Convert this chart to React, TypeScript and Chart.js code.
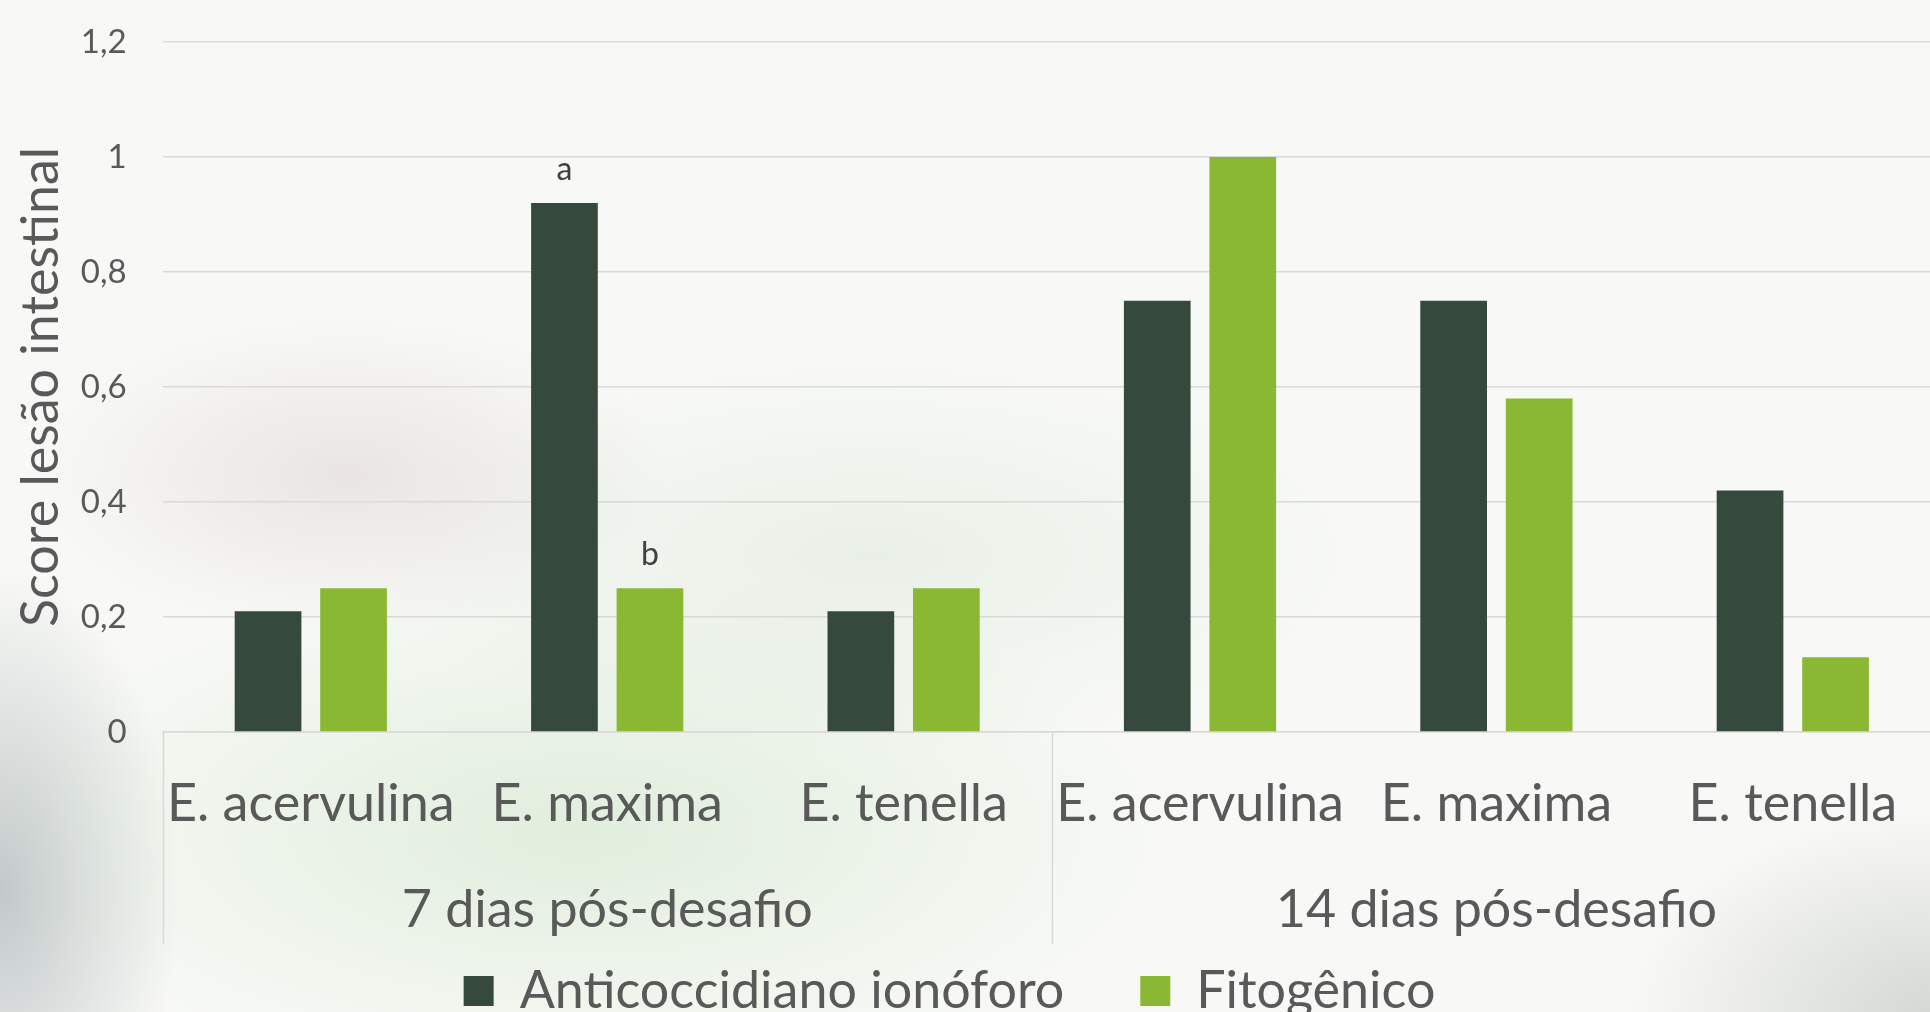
import React, { useEffect, useRef } from "react";
import { Chart, registerables } from "chart.js";

Chart.register(...registerables);

const categories = ["E. acervulina", "E. maxima", "E. tenella", "E. acervulina", "E. maxima", "E. tenella"];
const groups = ["7 dias pós-desafio", "14 dias pós-desafio"];
const groupSizes = [3, 3];
const seriesNames = ["Anticoccidiano ionóforo", "Fitogênico"];
const anticoccidiano = [0.21, 0.92, 0.21, 0.75, 0.75, 0.42];
const fitogenico = [0.25, 0.25, 0.25, 1.0, 0.58, 0.13];
const anticoccidianoMarks = ["", "a", "", "", "", ""];
const fitogenicoMarks = ["", "b", "", "", "", ""];
const yTickLabels = ["0", "0,2", "0,4", "0,6", "0,8", "1", "1,2"];
const yTitle = "Score lesão intestinal";

const DARK = "#35493d";
const GREEN = "#8ab833";
const TEXT = "#595959";
const GRID = "#d9d9d9";
const FONT = "Lato, 'Open Sans', sans-serif";

const marks = [anticoccidianoMarks, fitogenicoMarks];

const extrasPlugin = {
  id: "extras",
  afterDraw(chart: any) {
    const { ctx, chartArea, scales } = chart;
    const x = scales.x;
    ctx.save();
    ctx.strokeStyle = GRID;
    ctx.lineWidth = 1.5;
    let start = 0;
    const bounds = [0];
    groupSizes.forEach((s) => {
      start += s;
      bounds.push(start);
    });
    bounds.forEach((b) => {
      const px = Math.round(x.getPixelForValue(b - 0.5)) + 0.5;
      ctx.beginPath();
      ctx.moveTo(px, chartArea.bottom);
      ctx.lineTo(px, chartArea.bottom + 212);
      ctx.stroke();
    });
    ctx.fillStyle = TEXT;
    ctx.font = `52px ${FONT}`;
    ctx.textAlign = "center";
    ctx.textBaseline = "middle";
    let s0 = 0;
    groups.forEach((g, i) => {
      const a = x.getPixelForValue(s0 - 0.5);
      const b = x.getPixelForValue(s0 + groupSizes[i] - 0.5);
      ctx.fillText(g, (a + b) / 2, chartArea.bottom + 178);
      s0 += groupSizes[i];
    });
    ctx.font = `32px ${FONT}`;
    ctx.textBaseline = "alphabetic";
    ctx.fillStyle = "#404040";
    marks.forEach((arr, di) => {
      const meta = chart.getDatasetMeta(di);
      arr.forEach((m, j) => {
        if (!m) return;
        const el = meta.data[j];
        ctx.fillText(m, el.x, el.y - 23);
      });
    });
    ctx.restore();
  },
};

export default function App() {
  const ref = useRef<HTMLCanvasElement>(null);
  useEffect(() => {
    document.body.style.margin = "0";
    const chart = new Chart(ref.current as HTMLCanvasElement, {
      type: "bar",
      data: {
        labels: categories,
        datasets: [
          {
            label: seriesNames[0],
            data: anticoccidiano,
            backgroundColor: DARK,
            categoryPercentage: 0.577,
            barPercentage: 0.78,
          },
          {
            label: seriesNames[1],
            data: fitogenico,
            backgroundColor: GREEN,
            categoryPercentage: 0.577,
            barPercentage: 0.78,
          },
        ],
      },
      options: {
        responsive: false,
        animation: false,
        layout: { padding: { top: 42, left: 0, right: 0, bottom: 0 } },
        plugins: {
          legend: {
            position: "bottom",
            labels: {
              boxWidth: 30,
              boxHeight: 30,
              padding: 76,
              color: TEXT,
              font: { family: FONT, size: 52 },
            },
          },
          tooltip: { enabled: false },
        },
        scales: {
          x: {
            grid: { display: false, drawTicks: false },
            border: { display: true, color: GRID, width: 1.5 },
            ticks: {
              color: TEXT,
              padding: 41,
              maxRotation: 0,
              autoSkip: false,
              font: { family: FONT, size: 52, lineHeight: 1.2 },
            },
            afterFit(scale: any) {
              scale.height = 157;
              scale.paddingLeft = 0;
              scale.paddingRight = 0;
            },
          },
          y: {
            min: 0,
            max: 1.2,
            grid: { color: GRID, lineWidth: 1.5, drawTicks: false },
            border: { display: false },
            ticks: {
              stepSize: 0.2,
              padding: 36,
              color: TEXT,
              font: { family: FONT, size: 33 },
              callback: (_v: any, i: number) => yTickLabels[i],
            },
            title: {
              display: true,
              text: yTitle,
              color: TEXT,
              font: { family: FONT, size: 52, lineHeight: 1.2 },
              padding: { top: 52, bottom: 0 },
            },
            afterFit(scale: any) {
              scale.width = 204.6;
              scale.paddingTop = 0;
              scale.paddingBottom = 0;
            },
          },
        },
      },
      plugins: [extrasPlugin],
    });
    return () => chart.destroy();
  }, []);

  const bg =
    "radial-gradient(ellipse 320px 160px at 18% 47%, rgba(205,190,192,0.35), rgba(255,255,255,0) 100%)," +
    "radial-gradient(ellipse 600px 260px at 30% 82%, rgba(205,228,200,0.55), rgba(255,255,255,0) 100%)," +
    "radial-gradient(ellipse 180px 320px at 0% 88%, rgba(150,160,165,0.55), rgba(255,255,255,0) 100%)," +
    "radial-gradient(ellipse 300px 200px at 100% 100%, rgba(170,175,170,0.45), rgba(255,255,255,0) 100%)," +
    "radial-gradient(ellipse 500px 200px at 45% 55%, rgba(215,228,212,0.45), rgba(255,255,255,0) 100%)," +
    "#f8f9f6";

  return (
    <div
      style={{
        position: "fixed",
        left: 0,
        top: 0,
        width: 1930,
        height: 1012,
        overflow: "hidden",
        background: bg,
      }}
    >
      <canvas
        ref={ref}
        width={1983}
        height={1027}
        style={{ position: "absolute", left: -42, top: 0, width: 1983, height: 1027 }}
      />
    </div>
  );
}
